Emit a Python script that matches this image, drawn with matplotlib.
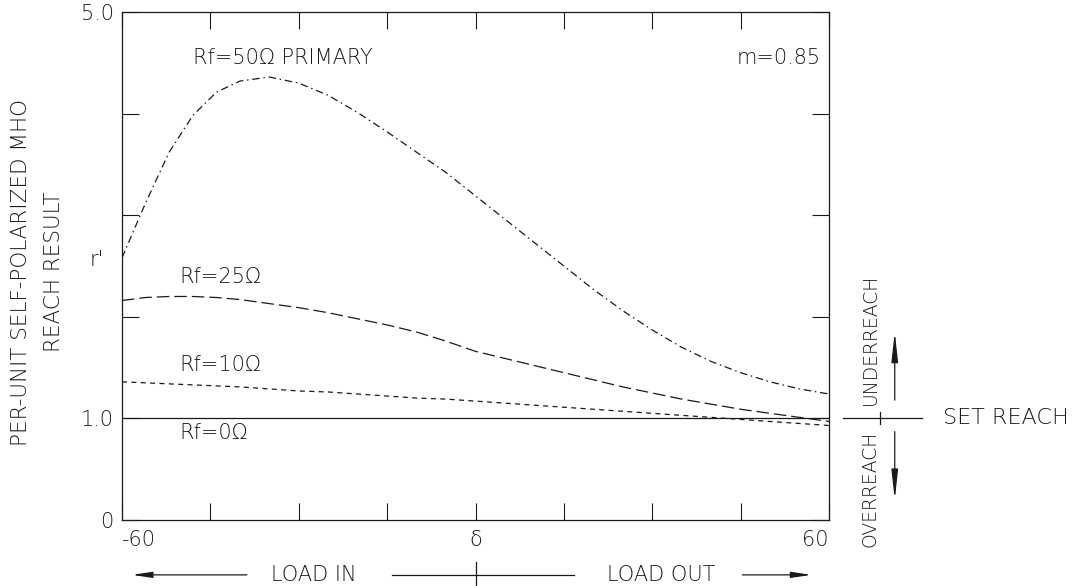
"""
Per-unit self-polarized mho reach vs load angle, for several fault resistances.
"""

import matplotlib

matplotlib.use("Agg")
import matplotlib.pyplot as plt

plt.rcParams["font.family"] = ["DejaVu Sans"]
plt.rcParams["font.weight"] = "light"

INK = "#1a1a1a"

# load angle delta, degrees
delta = [-60, -56, -52, -48, -44, -40, -35, -30, -25, -20, -15, -10, -5, 0,
         5, 10, 15, 20, 25, 30, 35, 40, 45, 50, 55, 60]

# reach results, per unit of set reach
rf50 = [2.58, 3.12, 3.62, 3.98, 4.21, 4.32, 4.36, 4.30, 4.18, 4.01, 3.82,
        3.62, 3.42, 3.19, 2.96, 2.73, 2.50, 2.27, 2.06, 1.87, 1.70, 1.56,
        1.45, 1.36, 1.29, 1.24]
rf25 = [2.16, 2.19, 2.20, 2.20, 2.19, 2.17, 2.13, 2.09, 2.04, 1.98, 1.92,
        1.85, 1.76, 1.66, 1.59, 1.52, 1.45, 1.38, 1.31, 1.25, 1.19, 1.14,
        1.09, 1.05, 1.01, 0.97]
rf10 = [1.36, 1.35, 1.34, 1.33, 1.32, 1.31, 1.29, 1.27, 1.26, 1.24, 1.22,
        1.20, 1.19, 1.17, 1.15, 1.13, 1.11, 1.09, 1.07, 1.05, 1.03, 1.01,
        0.99, 0.97, 0.95, 0.93]
rf0 = [1.0] * len(delta)

x_ticks = [-60, -45, -30, -15, 0, 15, 30, 45, 60]
x_labels = ["-60", "", "", "", "δ", "", "", "", "60"]
y_ticks = [0, 1, 2, 3, 4, 5]
y_labels = ["0", "1.0", "", "", "", "5.0"]


def main():
    fig = plt.figure(figsize=(10.73, 5.86), dpi=100)
    ax = fig.add_axes([122 / 1073, 1 - 520 / 586, 707 / 1073, 508 / 586])

    ax.plot(delta, rf0, color=INK, lw=0.9)
    ax.plot(delta, rf10, color=INK, lw=0.9, dashes=(4, 3.5))
    ax.plot(delta, rf25, color=INK, lw=0.9, dashes=(10, 4))
    ax.plot(delta, rf50, color=INK, lw=0.9, dashes=(6, 3, 1.2, 3))

    ax.set_xlim(-60, 60)
    ax.set_ylim(0, 5)
    ax.set_xticks(x_ticks)
    ax.set_xticklabels(x_labels, fontsize=15, color=INK)
    ax.set_yticks(y_ticks)
    ax.set_yticklabels(y_labels, fontsize=15, color=INK)
    xl = ax.get_xticklabels()
    xl[0].set_ha("left")
    xl[-1].set_ha("right")
    ax.tick_params(direction="in", length=12, width=0.8, color=INK,
                   top=True, right=True)
    ax.tick_params(axis="x", pad=7)
    ax.tick_params(axis="y", pad=6)
    for s in ax.spines.values():
        s.set_linewidth(0.9)
        s.set_color(INK)

    fs = 15
    ax.text(-47.9, 4.55, "Rf=50Ω PRIMARY", fontsize=fs, va="center", color=INK)
    ax.text(44.3, 4.55, "m=0.85", fontsize=fs, va="center", color=INK)
    ax.text(-50.2, 2.39, "Rf=25Ω", fontsize=fs, va="center", color=INK)
    ax.text(-50.2, 1.53, "Rf=10Ω", fontsize=fs, va="center", color=INK)
    ax.text(-50.2, 0.86, "Rf=0Ω", fontsize=fs, va="center", color=INK)
    ax.text(-0.035, 2.56, "r'", fontsize=fs, ha="center", va="center",
            color=INK, transform=ax.get_yaxis_transform())

    fig.text(21 / 1073, 1 - 272 / 586, "PER-UNIT SELF-POLARIZED MHO",
             rotation=90, fontsize=15.5, ha="center", va="center", color=INK)
    fig.text(54 / 1073, 1 - 272 / 586, "REACH RESULT",
             rotation=90, fontsize=15.5, ha="center", va="center", color=INK)

    # load in / load out row under the axis
    bx = ax.get_xaxis_transform()
    yrow = -0.108
    head = dict(arrowstyle="-|>,head_length=1.2,head_width=0.18",
                color=INK, lw=0.9, shrinkA=0, shrinkB=0)
    ax.annotate("", xy=(-58.3, yrow), xytext=(-38.8, yrow), xycoords=bx,
                textcoords=bx, arrowprops=head, annotation_clip=False)
    ax.annotate("", xy=(57.0, yrow), xytext=(45.3, yrow), xycoords=bx,
                textcoords=bx, arrowprops=head, annotation_clip=False)
    ax.plot([-14.2, 16.7], [yrow, yrow], color=INK, lw=0.9, transform=bx,
            clip_on=False)
    ax.plot([0, 0], [yrow - 0.025, yrow + 0.025], color=INK, lw=0.9,
            transform=bx, clip_on=False)
    ax.text(-27.4, yrow, "LOAD IN", fontsize=fs, ha="center", va="center",
            color=INK, transform=bx)
    ax.text(31.5, yrow, "LOAD OUT", fontsize=fs, ha="center", va="center",
            color=INK, transform=bx)

    # under / over reach marker to the right
    by = ax.get_yaxis_transform()
    head2 = dict(arrowstyle="-|>,head_length=1.8,head_width=0.2",
                 color=INK, lw=0.9, shrinkA=0, shrinkB=0)
    ax.plot([1.020, 1.131], [1.0, 1.0], color=INK, lw=0.9, transform=by,
            clip_on=False)
    ax.plot([1.072, 1.072], [0.94, 1.06], color=INK, lw=0.9, transform=by,
            clip_on=False)
    ax.annotate("", xy=(1.093, 1.85), xytext=(1.093, 1.18), xycoords=by,
                textcoords=by, arrowprops=head2, annotation_clip=False)
    ax.annotate("", xy=(1.093, 0.20), xytext=(1.093, 0.87), xycoords=by,
                textcoords=by, arrowprops=head2, annotation_clip=False)
    ax.text(1.058, 1.78, "UNDERREACH", rotation=90, fontsize=13.5,
            ha="center", va="center", color=INK, transform=by)
    ax.text(1.058, 0.31, "OVERREACH", rotation=90, fontsize=13.5,
            ha="center", va="center", color=INK, transform=by)
    ax.text(1.161, 1.0, "SET REACH", fontsize=16, ha="left", va="center",
            color=INK, transform=by)

    fig.savefig("out.png", dpi=100)
    plt.close(fig)


if __name__ == "__main__":
    main()
